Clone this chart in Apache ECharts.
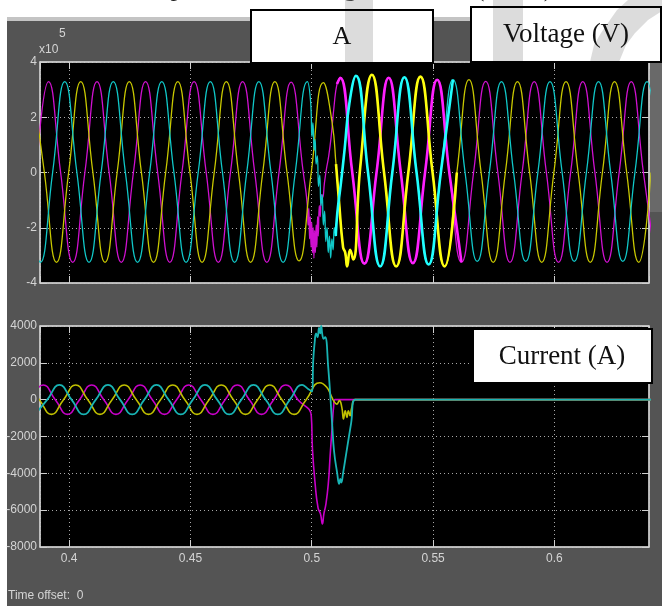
<!DOCTYPE html>
<html>
<head>
<meta charset="utf-8">
<script src="https://cdn.jsdelivr.net/npm/echarts@6/dist/echarts.min.js"></script>
<style>
html,body{margin:0;padding:0;background:#fff;}
#chart{width:662px;height:606px;}
</style>
</head>
<body>
<div id="chart"></div>
<script>
// ---- Voltage phases (values in units of 10^5 V), [time s, value]
const vMagenta = [
[0.3865,0],[0.3915,3.29],[0.3965,0],[0.4015,-3.25],[0.4065,0],[0.4115,3.29],[0.4165,0],[0.4215,-3.25],[0.4265,0],[0.4315,3.29],[0.4365,0],[0.4415,-3.25],[0.4465,0],[0.4515,3.29],[0.4565,0],[0.4615,-3.25],[0.4665,0],[0.4715,3.29],[0.4765,0],[0.4815,-3.25],[0.4865,0],[0.4915,3.27],[0.4965,0],
[0.4981,-1.1],[0.4985,-1.9],[0.4988,-1.3],[0.4991,-2.4],[0.4994,-1.6],[0.4997,-2.7],[0.5000,-1.8],[0.5003,-2.9],[0.5006,-2.0],[0.5009,-3.1],[0.5012,-2.1],[0.5015,-2.9],[0.5018,-1.9],[0.5021,-2.7],[0.5024,-1.6],[0.5027,-2.3],[0.5031,-1.2],[0.5035,-1.6],[0.5040,-0.8],[0.5045,-0.9],[0.5052,-0.4],[0.5060,0.1],[0.5070,0.6],[0.5080,1.3],[0.5092,2.4],[0.5104,3.2],[0.5117,3.43],
[0.5167,0],[0.5217,-3.30],[0.5267,0],[0.5317,3.43],[0.5367,0],[0.5417,-3.28],[0.5467,0],[0.5517,3.36],[0.5567,0],[0.5617,-3.25],[0.5667,0],[0.5717,3.30],[0.5767,0],[0.5817,-3.25],[0.5867,0],[0.5917,3.29],[0.5967,0],[0.6017,-3.25],[0.6067,0],[0.6117,3.29],[0.6167,0],[0.6217,-3.25],[0.6267,0],[0.6317,3.29],[0.6367,0],[0.6417,-3.25]
];
const vCyan = [
[0.3832,0],[0.3882,-3.25],[0.3932,0],[0.3982,3.29],[0.4032,0],[0.4082,-3.25],[0.4132,0],[0.4182,3.29],[0.4232,0],[0.4282,-3.25],[0.4332,0],[0.4382,3.29],[0.4432,0],[0.4482,-3.25],[0.4532,0],[0.4582,3.29],[0.4632,0],[0.4682,-3.25],[0.4732,0],[0.4782,3.29],[0.4832,0],[0.4882,-3.25],[0.4932,0],[0.4982,3.29],
[0.4995,2.6],[0.5001,1.3],[0.5005,1.8],[0.5010,0.8],[0.5014,1.2],[0.5018,0.3],[0.5023,0.6],[0.5028,-0.5],[0.5033,-0.1],[0.5038,-1.2],[0.5043,-0.8],[0.5048,-1.9],[0.5053,-1.4],[0.5058,-2.5],[0.5063,-2.0],[0.5068,-2.9],[0.5073,-2.3],[0.5078,-3.1],[0.5083,-2.4],[0.5088,-2.8],[0.5093,-2.0],[0.5099,-2.3],[0.5105,-1.5],[0.5120,-0.4],[0.5135,0.8],[0.5155,2.5],[0.5182,3.50],
[0.5232,0],[0.5282,-3.40],[0.5332,0],[0.5382,3.45],[0.5432,0],[0.5482,-3.33],[0.5532,0],[0.5582,3.36],[0.5632,0],[0.5682,-3.22],[0.5732,0],[0.5782,3.29],[0.5832,0],[0.5882,-3.22],[0.5932,0],[0.5982,3.29],[0.6032,0],[0.6082,-3.22],[0.6132,0],[0.6182,3.29],[0.6232,0],[0.6282,-3.22],[0.6332,0],[0.6382,3.29],[0.6432,0]
];
const vYellow = [
[0.3848,3.29],[0.3898,0],[0.3948,-3.25],[0.3998,0],[0.4048,3.29],[0.4098,0],[0.4148,-3.25],[0.4198,0],[0.4248,3.29],[0.4298,0],[0.4348,-3.25],[0.4398,0],[0.4448,3.29],[0.4498,0],[0.4548,-3.25],[0.4598,0],[0.4648,3.29],[0.4698,0],[0.4748,-3.25],[0.4798,0],[0.4848,3.29],[0.4898,0],[0.4948,-3.20],[0.4998,0],[0.5048,3.25],
[0.5084,1.8],[0.5100,0.3],[0.5112,-1.0],[0.5129,-2.7],[0.5138,-2.9],[0.5146,-3.4],[0.5158,-2.8],[0.5171,-3.15],[0.5200,0.2],[0.5248,3.54],
[0.5298,0],[0.5348,-3.40],[0.5398,0],[0.5448,3.47],[0.5498,0],[0.5548,-3.40],[0.5598,0],[0.5648,3.36],[0.5698,0],[0.5748,-3.25],[0.5798,0],[0.5848,3.29],[0.5898,0],[0.5948,-3.25],[0.5998,0],[0.6048,3.29],[0.6098,0],[0.6148,-3.25],[0.6198,0],[0.6248,3.29],[0.6298,0],[0.6348,-3.25],[0.6398,0]
];
// ---- Current phases (A), [time s, value]
const iMagenta = [
[0.3843,0],[0.3893,800],[0.3943,0],[0.3993,-800],[0.4043,0],[0.4093,800],[0.4143,0],[0.4193,-800],[0.4243,0],[0.4293,800],[0.4343,0],[0.4393,-800],[0.4443,0],[0.4493,800],[0.4543,0],[0.4593,-800],[0.4643,0],[0.4693,800],[0.4743,0],[0.4793,-800],[0.4843,0],[0.4893,800],[0.4943,0],[0.4998,-870],
[0.5003,-2700],[0.5014,-4570],[0.5026,-5870],[0.5036,-6200],[0.5044,-6750],[0.5050,-6200],[0.5058,-5700],[0.5068,-4600],[0.5076,-3000],[0.5084,-1500],[0.5090,-400],[0.5096,0],[0.6450,0]
];
const iCyan = [
[0.3860,-800],[0.3910,0],[0.3960,800],[0.4010,0],[0.4060,-800],[0.4110,0],[0.4160,800],[0.4210,0],[0.4260,-800],[0.4310,0],[0.4360,800],[0.4410,0],[0.4460,-800],[0.4510,0],[0.4560,800],[0.4610,0],[0.4660,-800],[0.4710,0],[0.4760,800],[0.4810,0],[0.4860,-800],[0.4910,0],[0.4960,800],
[0.4985,580],[0.5002,450],[0.5006,2100],[0.5012,3100],[0.5018,3600],[0.5024,3400],[0.5030,3900],[0.5035,3600],[0.5039,4000],[0.5044,3500],[0.5049,3300],[0.5055,3400],[0.5068,1750],[0.5084,-1300],[0.5092,-2800],[0.5105,-4000],[0.5113,-4570],[0.5118,-4300],[0.5122,-4500],[0.5129,-4000],[0.5146,-2600],[0.5162,-1300],[0.5179,0],[0.6450,0]
];
const iYellow = [
[0.3827,800],[0.3877,0],[0.3927,-800],[0.3977,0],[0.4027,800],[0.4077,0],[0.4127,-800],[0.4177,0],[0.4227,800],[0.4277,0],[0.4327,-800],[0.4377,0],[0.4427,800],[0.4477,0],[0.4527,-800],[0.4577,0],[0.4627,800],[0.4677,0],[0.4727,-800],[0.4777,0],[0.4827,800],[0.4877,0],[0.4927,-800],[0.4977,0],[0.5033,920],
[0.5062,670],[0.5083,125],[0.5092,-100],[0.5103,-240],[0.5114,-50],[0.5124,-420],[0.5131,-1050],[0.5138,-600],[0.5145,-960],[0.5151,-600],[0.5158,-870],[0.5165,-420],[0.5179,0],[0.6450,0]
];
// ---- axis settings
const timeRange = [0.388, 0.639];
const voltRange = [-4, 4];
const voltStep = 2;
const currRange = [-8000, 4000];
const currStep = 2000;
const boxLabels = ['A', 'Voltage (V)', 'Current (A)'];
const scaleNote = ['x10', '5'];
const footerText = 'Time offset:  0';

const chart = echarts.init(document.getElementById('chart'), null, {renderer: 'canvas'});
const narrow = '"Liberation Sans Narrow", "Liberation Sans", Arial, sans-serif';
const serif = '"Liberation Serif", "DejaVu Serif", serif';
const labelColor = '#d4d4d4';
const lineC = '#cfcfcf';
const splitStyle = {show: true, lineStyle: {color: '#a8a8a8', width: 1, type: [1, 3]}};

function xAx(grid, pos, labels, split) {
  return {
    type: 'value', gridIndex: grid, position: pos, min: timeRange[0], max: timeRange[1], splitNumber: 5,
    axisLine: {show: true, onZero: false, lineStyle: {color: lineC, width: 1.5}},
    axisTick: {show: true, inside: true, length: 7, lineStyle: {color: lineC}},
    axisLabel: {show: labels, showMinLabel: false, showMaxLabel: false, color: labelColor, fontFamily: narrow, fontSize: 12, margin: 6,
      formatter: v => String(+v.toFixed(4))},
    splitLine: split ? splitStyle : {show: false}
  };
}
function yAx(grid, pos, range, step, labels, split) {
  return {
    type: 'value', gridIndex: grid, position: pos, min: range[0], max: range[1], interval: step,
    axisLine: {show: true, onZero: false, lineStyle: {color: lineC, width: 1.5}},
    axisTick: {show: true, inside: true, length: 7, lineStyle: {color: lineC}},
    axisLabel: {show: labels, color: labelColor, fontFamily: narrow, fontSize: 12, margin: 3,
      formatter: v => String(v)},
    splitLine: split ? splitStyle : {show: false}
  };
}
function ser(name, data, xi, yi, color, width, z) {
  return {name: name, type: 'line', xAxisIndex: xi, yAxisIndex: yi, data: data, showSymbol: false,
    smooth: 0.5, clip: true, lineStyle: {color: color, width: width}, itemStyle: {color: color}, z: z, silent: true};
}
const seg = arr => arr.filter(p => p[0] >= 0.5095 && p[0] <= 0.5625);

const wm = 'rgba(150,150,150,0.33)';
const option = {
  backgroundColor: '#ffffff',
  animation: false,
  grid: [
    {left: 40, top: 62, width: 609, height: 221, show: true, backgroundColor: '#000', borderColor: lineC, borderWidth: 1},
    {left: 40, top: 326, width: 609, height: 221, show: true, backgroundColor: '#000', borderColor: lineC, borderWidth: 1}
  ],
  xAxis: [xAx(0, 'bottom', false, true), xAx(0, 'top', false, false), xAx(1, 'bottom', true, true), xAx(1, 'top', false, false)],
  yAxis: [yAx(0, 'left', voltRange, voltStep, true, true), yAx(0, 'right', voltRange, voltStep, false, false),
          yAx(1, 'left', currRange, currStep, true, true), yAx(1, 'right', currRange, currStep, false, false)],
  series: [
    ser('Va', vMagenta, 0, 0, '#d010d0', 1.3, 2),
    ser('Vc', vYellow, 0, 0, '#c8c800', 1.3, 2),
    ser('Vb', vCyan, 0, 0, '#10c8c8', 1.3, 2),
    ser('Va2', seg(vMagenta), 0, 0, '#ff20ff', 2.6, 3),
    ser('Vc2', seg(vYellow), 0, 0, '#ffff10', 2.6, 3),
    ser('Vb2', seg(vCyan), 0, 0, '#20ffff', 2.6, 3),
    ser('Ia', iMagenta, 2, 2, '#c800c8', 1.6, 2),
    ser('Ic', iYellow, 2, 2, '#c0c000', 1.6, 2),
    ser('Ib', iCyan, 2, 2, '#18b4b4', 1.8, 2)
  ],
  graphic: {elements: [
    {type: 'rect', shape: {x: 7, y: 17, width: 655, height: 5}, style: {fill: '#c4c4c4'}, z: -10, silent: true},
    {type: 'rect', shape: {x: 7, y: 21, width: 655, height: 585}, style: {fill: '#545454'}, z: -10, silent: true},
    // clipped caption line above the figure (only descenders visible)
    {type: 'text', x: 177, y: 2, z: -5, style: {text: 'p', font: '26px ' + serif, fill: '#222', align: 'center', verticalAlign: 'bottom'}},
    {type: 'text', x: 356, y: 2, z: -5, style: {text: 'ge', font: '26px ' + serif, fill: '#222', align: 'center', verticalAlign: 'bottom'}},
    {type: 'text', x: 480, y: 2, z: -5, style: {text: '(', font: '26px ' + serif, fill: '#222', align: 'center', verticalAlign: 'bottom'}},
    {type: 'text', x: 548, y: 2, z: -5, style: {text: ')', font: '26px ' + serif, fill: '#222', align: 'center', verticalAlign: 'bottom'}},
    // axis scale note
    {type: 'text', x: 39, y: 50, z: 5, style: {text: scaleNote[0], font: '12px ' + narrow, fill: labelColor, align: 'left', verticalAlign: 'middle'}},
    {type: 'text', x: 59, y: 34, z: 5, style: {text: scaleNote[1], font: '12px ' + narrow, fill: labelColor, align: 'left', verticalAlign: 'middle'}},
    {type: 'text', x: 8, y: 596, z: 5, style: {text: footerText, font: '12px ' + narrow, fill: labelColor, align: 'left', verticalAlign: 'middle'}},
    // box fills
    {type: 'rect', shape: {x: 251, y: 10, width: 182, height: 53}, style: {fill: '#fff'}, z: 100},
    {type: 'rect', shape: {x: 471, y: 7, width: 190, height: 55}, style: {fill: '#fff'}, z: 100},
    {type: 'rect', shape: {x: 473, y: 329, width: 179, height: 54}, style: {fill: '#fff'}, z: 100},
    // watermark
    {type: 'rect', shape: {x: 345, y: 0, width: 28, height: 62}, style: {fill: wm}, z: 101},
    {type: 'rect', shape: {x: 493, y: 0, width: 30, height: 62}, style: {fill: wm}, z: 101},
    {type: 'polygon', shape: {points: [[590,62],[594,45],[601,33],[610,20],[617,10],[628,0],[662,0],[662,11],[648,20],[635,33],[626,45],[619,62]]}, style: {fill: wm}, z: 101},
    {type: 'rect', shape: {x: 650, y: 62, width: 12, height: 150}, style: {fill: wm}, z: 101},
    // box borders
    {type: 'rect', shape: {x: 251, y: 10, width: 182, height: 53}, style: {fill: null, stroke: '#000', lineWidth: 2}, z: 102},
    {type: 'rect', shape: {x: 471, y: 7, width: 190, height: 55}, style: {fill: null, stroke: '#000', lineWidth: 2}, z: 102},
    {type: 'rect', shape: {x: 473, y: 329, width: 179, height: 54}, style: {fill: null, stroke: '#000', lineWidth: 2}, z: 102},
    // box labels
    {type: 'text', x: 342, y: 37, z: 103, style: {text: boxLabels[0], font: '26px ' + serif, fill: '#111', align: 'center', verticalAlign: 'middle'}},
    {type: 'text', x: 566, y: 35, z: 103, style: {text: boxLabels[1], font: '27px ' + serif, fill: '#111', align: 'center', verticalAlign: 'middle'}},
    {type: 'text', x: 562, y: 357, z: 103, style: {text: boxLabels[2], font: '27px ' + serif, fill: '#111', align: 'center', verticalAlign: 'middle'}}
  ]}
};
chart.setOption(option);
</script>
</body>
</html>
